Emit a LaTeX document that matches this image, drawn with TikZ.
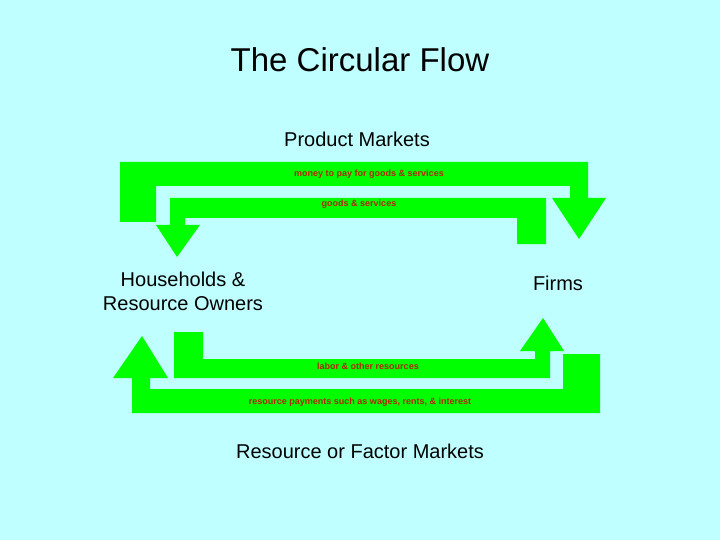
\documentclass[tikz,border=0pt]{standalone}
\usepackage{fontspec}
\setmainfont{Liberation Sans}
\begin{document}
\begin{tikzpicture}[x=1pt,y=-1pt,
  flow/.style={fill=green!100,draw=none},
  lbl/.style={font=\fontsize{9}{10}\selectfont\bfseries,text=lblc,inner sep=0pt},
  big/.style={font=\fontsize{20}{24}\selectfont,align=center,inner sep=0pt}]
\definecolor{lblc}{HTML}{B02800}
\definecolor{bg}{HTML}{C0FFFF}
\fill[bg] (0,0) rectangle (720,540);
\useasboundingbox (0,0) rectangle (720,540);
\fill[green] (120,162)--(588,162)--(588,198)--(606,198)--(579,239)--(552,198)--(570,198)--(570,186)--(156,186)--(156,222)--(120,222)--cycle;
\fill[green] (546,198)--(546,244)--(517,244)--(517,218)--(185,218)--(185,225)--(200,225)--(177,257)--(156,225)--(170,225)--(170,198)--cycle;
\fill[green] (174,332)--(203,332)--(203,359)--(535,359)--(535,351)--(520,351)--(543,318)--(564,351)--(550,351)--(550,378)--(174,378)--cycle;
\fill[green] (600,354)--(600,413)--(132,413)--(132,378)--(113,378)--(142,336)--(168,378)--(150,378)--(150,389)--(563,389)--(563,354)--cycle;
\node[font=\fontsize{33}{36}\selectfont] (title) at (360,60) {The Circular Flow};
\node[big] (pm) at (357,139) {Product Markets};
\node[lbl] (money) at (369,174) {money to pay for goods \& services};
\node[lbl] (goods) at (359,204) {goods \& services};
\node[big] (hh) at (183,291) {Households \&\\Resource Owners};
\node[big] (firms) at (558,283) {Firms};
\node[lbl] (labor) at (368,366) {labor \& other resources};
\node[lbl] (pay) at (360,402) {resource payments such as wages, rents, \& interest};
\node[big] (rfm) at (360,451) {Resource or Factor Markets};
\end{tikzpicture}
\end{document}
